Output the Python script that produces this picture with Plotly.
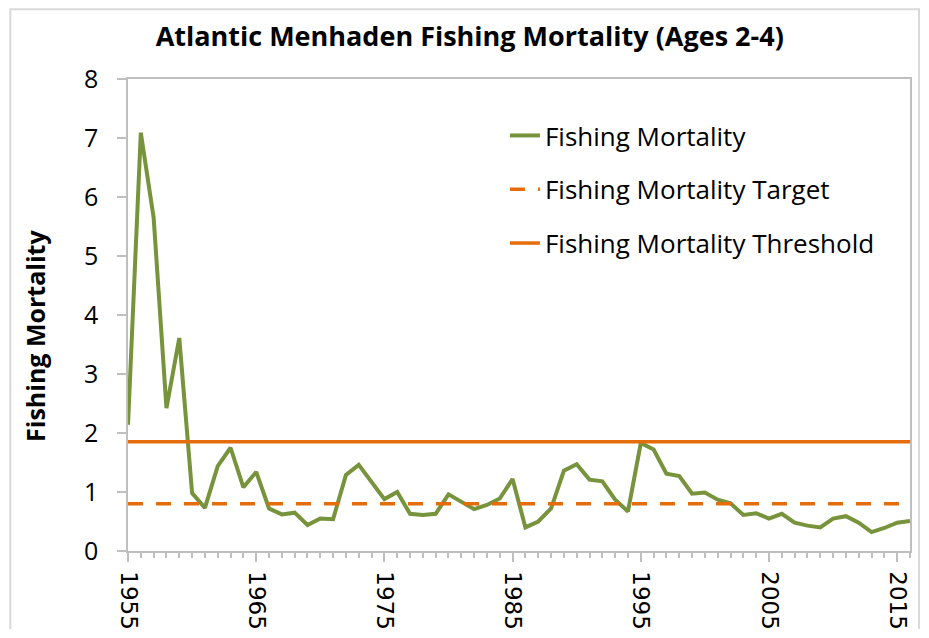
import plotly.graph_objects as go

years = list(range(1955, 2017))
fishing_mortality = [
    2.14, 7.09, 5.65, 2.42, 3.61, 0.98, 0.73, 1.44, 1.75, 1.08,
    1.34, 0.72, 0.62, 0.65, 0.44, 0.55, 0.54, 1.29, 1.46, 1.18,
    0.88, 1.00, 0.63, 0.61, 0.63, 0.96, 0.84, 0.71, 0.78, 0.89,
    1.22, 0.40, 0.50, 0.72, 1.36, 1.47, 1.21, 1.18, 0.87, 0.67,
    1.83, 1.72, 1.31, 1.27, 0.97, 0.99, 0.87, 0.81, 0.61, 0.64,
    0.55, 0.63, 0.48, 0.43, 0.40, 0.55, 0.59, 0.48, 0.32, 0.39,
    0.48, 0.51,
]
target_value = 0.80
threshold_value = 1.85
target = [target_value] * len(years)
threshold = [threshold_value] * len(years)

title_text = "Atlantic Menhaden Fishing Mortality (Ages 2-4)"
y_title = "Fishing Mortality"
series_names = ["Fishing Mortality", "Fishing Mortality Target", "Fishing Mortality Threshold"]

GREEN = "#77933C"
ORANGE = "#E46C0A"
AXIS = "#BFBFBF"
FONT = "Open Sans"

W, H = 913, 621

fig = go.Figure()
fig.add_trace(go.Scatter(x=years, y=fishing_mortality, mode="lines", name=series_names[0],
                         legendgroup="a", line=dict(color=GREEN, width=4)))
fig.add_trace(go.Scatter(x=years, y=target, mode="lines", name=series_names[1],
                         legendgroup="b", line=dict(color=ORANGE, width=3.5, dash="15px,13px")))
fig.add_trace(go.Scatter(x=years, y=threshold, mode="lines", name=series_names[2],
                         legendgroup="c", line=dict(color=ORANGE, width=3.5)))

fig.update_layout(
    width=W, height=H,
    margin=dict(l=120, r=W - 902, t=71, b=H - 543, autoexpand=False),
    paper_bgcolor="white", plot_bgcolor="white",
    font=dict(family=FONT, color="black"),
    title=dict(text="<b>" + title_text + "</b>", x=0.437, xref="paper", xanchor="center",
               y=1 - 29 / H, yref="container", yanchor="middle",
               font=dict(family=FONT, size=27, color="black"), automargin=False),
    showlegend=True,
    legend=dict(x=0.482, y=0.93, xanchor="left", yanchor="top", bgcolor="rgba(0,0,0,0)",
                font=dict(family=FONT, size=26, color="black"),
                tracegroupgap=17, traceorder="grouped"),
    xaxis=dict(range=[1955, 2016], tick0=1955, dtick=10, tickangle=90, automargin=False,
               showgrid=False, zeroline=False,
               showline=True, linecolor=AXIS, linewidth=1.5, mirror=True,
               ticks="outside", ticklen=9, tickcolor=AXIS, tickwidth=1.5,
               minor=dict(dtick=1, ticks="outside", ticklen=5, tickcolor=AXIS, tickwidth=1.5),
               tickfont=dict(family="DejaVu Sans", size=23, color="black"),
               ticklabelstandoff=5),
    yaxis=dict(range=[0, 8], dtick=1, automargin=False, showgrid=False, zeroline=False,
               showline=True, linecolor=AXIS, linewidth=1.5, mirror=True,
               ticks="outside", ticklen=9, tickcolor=AXIS, tickwidth=1.5,
               tickfont=dict(family=FONT, size=25, color="black"),
               ticklabelstandoff=14),
    annotations=[dict(text="<b>" + y_title + "</b>", x=-0.119, y=0.4555, xref="paper", yref="paper",
                      xanchor="center", yanchor="middle", textangle=-90, showarrow=False,
                      font=dict(family=FONT, size=25, color="black"))],
    shapes=[dict(type="rect", xref="paper", yref="paper", x0=-0.1505, x1=1.0115, y0=-0.3, y1=1.148,
                 line=dict(color="#D9D9D9", width=2), fillcolor="rgba(0,0,0,0)", layer="below")],
)

fig.write_html("out.html")
